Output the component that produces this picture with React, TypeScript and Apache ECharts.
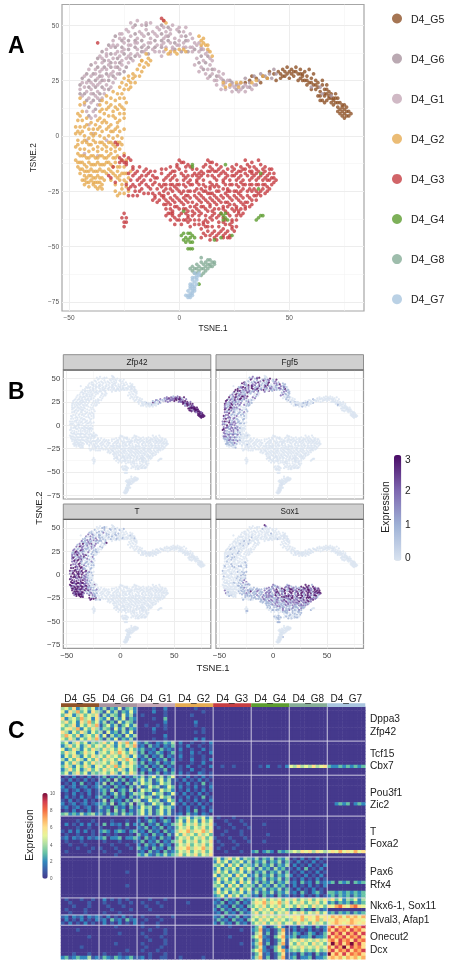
import React, { useEffect, useRef } from "react";
import * as echarts from "echarts";

const clusterNames = ["D4_G5", "D4_G6", "D4_G1", "D4_G2", "D4_G3", "D4_G4", "D4_G8", "D4_G7"];
const clusterColors = ["#8f5328", "#a9949f", "#c4a7b6", "#e6ab52", "#c63d42", "#5c9c30", "#86ad97", "#a9c5df"];

const g5 = [
  43,28, 45,29, 47,30, 47,27, 49,31, 49,28, 50,26, 51,30, 52,27, 53,31,
  54,28, 55,30, 55,26, 56,28, 57,25, 57,29, 58,27, 59,24, 59,30, 60,26,
  61,23, 61,28, 62,25, 62,21, 63,24, 64,20, 64,18, 65,25, 66,21, 66,18,
  66,15, 67,23, 67,19, 67,16, 68,20, 68,17, 69,15, 69,19, 70,17, 70,14,
  71,19, 71,15, 72,17, 72,13, 73,15, 73,12, 74,14, 74,11, 75,12, 75,10,
  76,13, 76,11, 77,11, 77,9, 78,10, 63,18, 65,16, 64,16, 72,11, 74,9,
  32,25, 35,26, 38,27, 40,26, 41,29, 37,24, 33,27, 30,24, 44,25, 46,26,
  48,29, 52,29, 54,25, 56,25, 58,23, 60,21, 50,29, 46,28, 75,8, 73,10,
  48,27, 51,28, 53,29, 55,28, 56,27, 58,25, 60,24, 62,23, 63,22, 65,23,
  66,19, 67,21, 68,18, 69,17, 70,16, 71,17, 72,15, 74,13, 75,14, 76,9,
];
const g6 = [
  30,26, 32,24, 34,27, 36,25, 37,28, 39,27, 41,28, 42,26, 43,30, 44,28,
  26,23, 28,24, 24,24, 35,23, 32,22, 29,22, 60,22, 64,22, 65,19, 69,18,
  -20,50, -15,50, -8,50, -5,49, -20,46, -14,46, -8,46, -5,45, 0,47, 3,45,
  -29,45, -26,43, -23,43, -20,43, -17,43, -11,43, -8,43, -5,43, -2,42, 3,43,
  -32,41, -29,40, -26,40, -23,39, -20,40, -17,40, -14,40, -11,40, -8,40, -2,39,
  1,38, 4,38, 7,39, 10,39, 13,36, -35,38, -31,37, -28,35, -25,37, -22,35,
  -20,36, -17,38, -14,37, -37,35, -34,34, -31,33, -27,33, -24,31, -40,32, -37,31,
  -34,31, -31,31, -28,31, -25,29, -42,28, -39,28, -36,27, -33,28, -30,27, -27,28,
  -44,26, -41,25, -38,25, -35,25, -32,25, -45,23, -41,22, -38,22, -35,22, -32,21,
  -45,19, -43,19, -39,19, -36,19, -42,16, -39,16, -36,16, -41,13, -38,12, -41,9,
  10,36, 12,33, 15,30, 9,33, 11,30, 14,27, 17,27, 20,25, 23,25, 26,21,
];
const g1 = [
  -19,52, -17,50, -13,51, -10,49, -24,48, -21,49, -18,47, -15,48, -12,47, -9,48,
  -6,47, -3,50, -1,48, 2,47, 5,46, -27,46, -25,44, -22,45, -19,44, -16,45,
  -13,44, -10,45, -7,44, -4,46, -2,44, 1,45, 4,43, 6,44, 9,42, -30,43,
  -28,41, -25,42, -22,41, -19,42, -16,41, -13,42, -10,41, -7,42, -4,42, -1,41,
  2,42, 5,40, 8,41, 11,39, -33,39, -31,40, -28,38, -25,39, -22,37, -19,39,
  -16,38, -12,39, -9,38, -6,40, -3,39, 0,41, 3,40, 6,38, 9,38, 12,37,
  14,35, -36,36, -33,36, -30,35, -27,36, -24,35, -21,34, -18,36, -38,33, -35,33,
  -32,32, -29,33, -26,32, -23,33, 8,35, 11,34, 14,32, 7,32, 10,31, 13,30,
  -41,30, -38,30, -36,29, -33,30, -30,29, -27,30, 9,29, 12,28, 15,28, 18,29,
  -43,27, -40,27, -37,26, -35,27, -32,27, -29,26, 13,26, 16,25, 19,26, 22,25,
  -44,24, -42,24, -39,23, -36,24, -33,23, -30,24, 17,23, 20,23, 23,22, 25,22,
  28,21, 31,22, -45,21, -42,20, -40,21, -37,20, -34,21, 19,21, 21,21, 24,20,
  27,20, 30,20, 33,21, -44,18, -41,17, -38,18, -35,17, -43,14, -40,15, -37,14,
  -42,11, -39,11, -40,8, -38,9, -41,5, -39,1, -42,-2, -37,-9, -43,-8, -33,-2,
  -22,51, -15,51, -7,49, -4,48, 0,49, 3,49, -26,46, -17,46, -11,46, -6,45,
  0,43, 7,42, 10,40, -30,41, -27,44, -23,47, -20,42, -14,42, -8,41, -3,40,
  2,40, 6,40, 13,38, 15,34, -33,37, -29,37, -26,38, -23,41, -19,37, -15,39,
  -11,38, -7,38, -4,37, -35,35, -32,34, -29,31, -26,34, -23,36, -38,28, -35,30,
  -31,28, -28,28, -40,24, -37,23, -34,25, -31,22, -43,22, -40,19, -37,17, -34,19,
  16,30, 18,27, 20,28, 17,25, 21,24, 24,23, 27,23, 30,23, 34,23, -8,36,
];
const g2 = [
  9,45, 10,43, 11,42, 12,41, 13,39, 14,38, 15,36, 11,44, 13,41, 10,41,
  -6,39, -4,38, -2,38, 0,39, 2,39, 3,38, -5,37, -1,37, -7,52, -6,51,
  21,22, 23,23, 26,24, 27,22, 38,27, 35,25, 40,26, 20,24, 28,24, 33,24,
  -15,37, -14,35, -17,34, -15,33, -18,32, -16,31, -14,32, -19,30, -17,29, -21,28,
  -23,27, -21,26, -25,26, -23,25, -26,24, -24,23, -22,24, -20,24, -27,22, -25,21,
  -23,21, -30,20, -28,19, -26,19, -33,18, -31,17, -29,16, -27,17, -25,17, -35,16,
  -45,17, -43,15, -36,14, -33,15, -31,14, -29,13, -27,14, -25,12, -33,12, -30,11,
  -46,10, -44,11, -36,11, -34,10, -32,9, -29,8, -27,10, -25,10, -46,7, -44,7,
  -42,8, -40,6, -37,7, -35,6, -33,6, -31,5, -28,6, -47,4, -45,4, -43,4,
  -41,3, -39,3, -37,3, -35,2, -33,3, -31,2, -29,3, -27,2, -47,1, -45,1,
  -43,0, -41,-1, -39,0, -36,0, -34,-1, -32,0, -30,-1, -28,0, -26,-1, -46,-2,
  -44,-3, -42,-3, -40,-4, -38,-3, -36,-3, -34,-4, -32,-3, -30,-4, -28,-3, -26,-4,
  -47,-5, -45,-6, -43,-6, -41,-7, -39,-6, -37,-7, -35,-6, -33,-7, -31,-6, -29,-7,
  -27,-6, -25,-8, -46,-8, -44,-9, -42,-10, -40,-9, -38,-10, -36,-9, -34,-10, -32,-9,
  -30,-10, -28,-9, -26,-11, -24,-11, -47,-11, -45,-12, -43,-13, -41,-12, -39,-13, -37,-12,
  -35,-13, -33,-12, -31,-13, -29,-12, -27,-14, -25,-14, -46,-14, -44,-15, -42,-16, -40,-15,
  -38,-16, -36,-15, -34,-16, -32,-15, -30,-17, -28,-16, -26,-17, -24,-17, -22,-16, -45,-17,
  -43,-18, -41,-18, -39,-19, -37,-18, -35,-19, -31,-20, -28,-19, -25,-20, -23,-19, -44,-20,
  -42,-21, -40,-20, -38,-21, -36,-21, -34,-20, -29,-22, -26,-22, -41,-23, -39,-22, -37,-24,
  -36,-23, -35,-24, -43,-22, -29,-25, -27,-26, -25,-26, -23,-25, -26,-24, -24,-23, -28,-27,
  -45,14, -35,12, -32,13, -28,12, -26,13, -24,15, -45,9, -42,5, -38,5, -36,8,
  -34,7, -30,9, -27,7, -25,8, -46,2, -44,2, -40,1, -38,1, -36,4, -32,4,
  -30,2, -28,4, -25,3, -46,-4, -43,-2, -41,-4, -39,-2, -37,-5, -35,-3, -33,-5,
  -31,-3, -29,-5, -27,-3, -45,-9, -43,-9, -41,-10, -39,-9, -37,-10, -35,-9, -33,-10,
  -31,-8, -29,-10, -46,-12, -44,-12, -42,-14, -40,-13, -38,-13, -36,-13, -34,-13, -32,-12,
  -30,-14, -28,-14, -45,-15, -43,-16, -41,-16, -39,-16, -37,-16, -35,-16, -33,-17, -31,-16,
  -29,-18, -27,-18, -25,-17, -42,-19, -40,-18, -38,-19, -36,-19, -43,-20, -41,-21, -39,-21,
  -37,-21, -35,-22, -27,-20, -24,-21, -38,-23, -17,34, -13,34, -20,27, -18,27, -22,22,
];
const g3 = [
  0,-11, 2,-12, 13,-11, 15,-12, 30,-11, 33,-12, 36,-11, -1,-13, 3,-14, 12,-13,
  14,-14, 17,-13, 26,-13, 28,-14, 31,-13, 34,-14, 37,-13, 39,-14, -21,-15, -18,-14,
  -15,-15, -6,-15, -3,-16, 0,-15, 3,-16, 6,-15, 10,-16, 13,-16, 16,-16, 18,-15,
  22,-15, 24,-16, 27,-16, 30,-15, 33,-16, 36,-16, 39,-16, 42,-15, -23,-17, -20,-17,
  -17,-18, -14,-17, -12,-18, -8,-17, -5,-18, -2,-18, 1,-17, 4,-18, 7,-17, 10,-18,
  13,-18, 16,-19, 19,-17, 22,-18, 25,-18, 28,-18, 31,-18, 34,-18, 37,-18, 40,-18,
  43,-17, -22,-20, -19,-20, -16,-20, -13,-20, -10,-19, -7,-20, -4,-20, -1,-20, 2,-20,
  5,-20, 8,-20, 11,-20, 14,-21, 17,-20, 20,-20, 23,-20, 26,-20, 29,-20, 32,-20,
  35,-20, 38,-20, 41,-20, 44,-20, -24,-22, -21,-22, -18,-22, -15,-22, -12,-22, -9,-22,
  -6,-22, -3,-22, 0,-22, 3,-23, 6,-22, 9,-22, 12,-23, 15,-22, 18,-23, 21,-22,
  24,-22, 27,-23, 30,-22, 33,-22, 36,-22, 39,-22, 42,-22, -23,-24, -20,-25, -17,-24,
  -13,-24, -10,-24, -7,-25, -4,-24, -1,-24, 2,-25, 5,-25, 8,-24, 11,-25, 14,-24,
  17,-25, 20,-24, 23,-25, 26,-25, 29,-24, 32,-24, 35,-25, 38,-24, 40,-25, -23,-27,
  -19,-27, -14,-26, -11,-27, -8,-27, -5,-26, -2,-27, 1,-26, 4,-27, 7,-27, 10,-27,
  13,-26, 16,-27, 19,-27, 22,-27, 25,-27, 28,-27, 31,-27, 34,-27, 37,-27, -12,-29,
  -9,-29, -6,-29, -3,-29, 0,-29, 3,-29, 6,-30, 9,-29, 12,-29, 15,-29, 18,-29,
  21,-30, 24,-29, 27,-29, 30,-30, 33,-29, 35,-29, -7,-31, -4,-31, -1,-32, 2,-31,
  5,-32, 8,-31, 11,-32, 14,-31, 17,-31, 20,-32, 23,-31, 26,-32, 29,-31, 32,-32,
  -6,-33, -3,-34, 0,-33, 3,-33, 6,-34, 9,-34, 12,-33, 15,-34, 18,-33, 21,-34,
  24,-33, 27,-34, 30,-33, -6,-36, -3,-36, 0,-36, 3,-35, 6,-36, 9,-36, 12,-36,
  15,-36, 18,-36, 23,-36, 26,-36, 29,-35, -4,-38, -1,-38, 2,-38, 5,-38, 9,-38,
  12,-38, 15,-38, 18,-39, 21,-38, 24,-38, 26,-38, -2,-40, 1,-40, 4,-39, 9,-40,
  12,-41, 15,-41, 18,-41, 21,-40, 24,-41, 10,-42, 13,-43, 16,-43, 19,-43, 22,-43,
  25,-43, 14,-45, 17,-45, 20,-45, 23,-45, 14,-47, 17,-47, 20,-46, 23,-46, 10,-46,
  -25,-9, -23,-10, -26,-11, -24,-12, -22,-11, -25,-35, -24,-37, -25,-39, -26,-37, -24,-39,
  -25,-41, -30,-14, -29,-21, -32,-18, -31,-19, -16,-16, -11,-19, -4,-17, -1,-14, 4,-13,
  8,-15, 11,-14, 15,-15, 19,-14, 24,-14, 29,-15, 32,-14, 35,-15, 38,-15, 41,-17,
  -3,-19, 3,-19, 9,-19, 15,-18, 21,-19, 27,-19, 33,-19, 39,-19, -20,-23, -14,-23,
  -8,-23, -2,-23, 4,-21, 10,-24, 16,-23, 22,-24, 28,-21, 34,-24, 40,-23, 43,-21,
  -16,-26, -9,-26, -3,-25, 3,-27, 9,-26, 15,-26, 21,-26, 27,-26, 33,-25, 37,-25,
  -11,-28, -7,-28, -1,-28, 5,-28, 11,-28, 17,-28, 23,-28, 29,-28, 32,-28, -5,-30,
  1,-30, 7,-32, 13,-30, 19,-30, 25,-31, 31,-30, -2,-32, 4,-34, 10,-32, 16,-33,
  22,-32, 28,-33, -5,-35, 1,-35, 7,-35, 13,-34, 19,-35, 25,-34, 28,-36, -2,-37,
  4,-37, 7,-38, 11,-39, 14,-37, 17,-37, 20,-37, 23,-40, 11,-44, 15,-44, 21,-44,
  -8,53, -7,52, -37,42, -29,-3, -28,-4, -27,-10, -25,-12, -21,-14, -24,-13, -27,-12,
  -19,-16, -13,-16, -8,-15, -4,-14, 1,-12, 5,-14, 9,-17, 14,-12, 17,-16, 20,-16,
  25,-15, 28,-16, 32,-16, 35,-17, 38,-17, 41,-15, 43,-19, -21,-18, -18,-19, -15,-18,
  -11,-16, -6,-19, -2,-16, 2,-18, 6,-18, 8,-18, 11,-17, 14,-16, 18,-18, 21,-17,
  24,-18, 26,-17, 30,-17, 33,-17, 36,-19, 40,-20, 42,-19, -17,-21, -11,-21, -7,-22,
  -4,-22, -1,-22, 2,-22, 5,-22, 8,-21, 11,-22, 14,-23, 17,-22, 20,-21, 23,-22,
  26,-22, 29,-22, 32,-22, 35,-22, 38,-22, 41,-24, -22,-23, -18,-25, -12,-26, -6,-24,
  0,-25, 4,-25, 7,-25, 12,-25, 14,-26, 18,-25, 22,-25, 25,-25, 28,-25, 31,-25,
  36,-26, 39,-26, -21,-27, -7,-27, -4,-28, 2,-28, 8,-28, 14,-28, 20,-28, 26,-28,
  35,-27, -10,-30, -6,-31, -2,-30, 4,-30, 10,-30, 16,-30, 22,-30, 28,-30, 33,-31,
  -4,-33, 2,-33, 8,-33, 14,-32, 20,-33, 26,-33, 30,-32, -3,-35, -4,-35, 4,-36,
  10,-35, 16,-35, 22,-35, 27,-35, 0,-38, 7,-40, 13,-39, 20,-39, 24,-39, 13,-41,
  20,-42, 24,-42, 12,-45, 18,-44, 22,-46, 16,-46, 11,-40, 3,-38, 5,-41, 26,-41,
];
const g4 = [
  1,-45, 2,-44, 3,-46, 4,-44, 5,-46, 6,-45, 7,-46, 2,-47, 4,-47, 6,-48,
  5,-44, 4,-51, 5,-51, 6,-51, 3,-48, 5,-48, 19,-35, 20,-36, 21,-35, 21,-37,
  20,-38, 22,-38, 35,-38, 36,-37, 37,-36, 38,-36, 6,-13, 21,-13, 2,-34, 9,-67,
  37,-17, 36,-24, 16,-47, 19,-46, 24,-45, 6,-14,
];
const g8 = [
  10,-55, 6,-59, 6,-61, 7,-60, 8,-58, 8,-60, 8,-62, 9,-59, 9,-61, 10,-57,
  10,-60, 10,-63, 11,-58, 11,-60, 11,-62, 12,-57, 12,-59, 12,-61, 13,-58, 13,-60,
  14,-56, 14,-58, 14,-59, 15,-57, 15,-59, 16,-57, 16,-58, 13,-56, 7,-62, 5,-60,
];
const g7 = [
  7,-62, 8,-63, 6,-64, 7,-64, 8,-65, 6,-65, 7,-66, 5,-67, 6,-67, 8,-67,
  5,-68, 6,-68, 7,-68, 5,-69, 6,-70, 7,-69, 4,-70, 5,-71, 6,-71, 4,-72,
  5,-72, 5,-73, 8,-64, 9,-62, 4,-73, 3,-72, 6,-69, 7,-70, 9,-63, 6,-72,
];
const clusterPoints = [g5, g6, g1, g2, g3, g4, g8, g7];

// Expression level (0-3) of each point, ten digits per line of the point lists above.
const zfp42 = {
  D4_G5: "2322123232 3323212333 3233213233 3332323332 3233333323 3333333333 1112212322 2322322233 2323232333 3233333323",
  D4_G6: "1112211222 1011011233",
};
const fgf5 = {
  D4_G5: "0000000000 0000000000 0000000000 0000000000 0000000000 0000000000 1010010100",
  D4_G6: "0100100000 0000001000 2312131312 3132212312 1232312112 2021033121 1231321312 2132123212 3122131321 2132121312 2112010100",
  D4_G1: "2131031123 1302131022 2113021310 3102130312 1203312123 2132201112 1312131223 2120111201 3121320100 3212110100 2131220010 0121210000 1002321212 2120312102 1212131201 0212213122 1211312213 2130131213 3121121312 0000000002",
  D4_G2: "1101011102 1011010100 1000000010 1102010220 1012011121 1000121010 3110102011 3212001023 2120101232 3122110122 3112100002 2122110000 3211220100 0021212110 1001021110 1010001112 1010000000 1010000001 0010100010 0100000000 2011011012 1010102221 1003212222 1002121212 1022121210 0011212121 0001112110 1001000101",
};
const tGene = {
  D4_G6: "0000000000 0000000000 0101100100 1201010100 2012110100 0000012120 1010113212 1201012102 2312012123 2221233232",
  D4_G1: "0101100101 0010010102 1000100012 2101010010 0000102121 1010100000 0212101123 1212000000 2320120000 2132110000 1321020000 0021322000 0003121232 2323131232 0100010100 0000101010 0000110010 0001100102 1020102123 0000000000",
  D4_G2: "0000100000 0100100000 0000000000 0101000110 1011101011 0102121010 2310102011 3212101133 3232101323 3323212123 3233221013 3323322100 3323233221 1033232322 2113323233 3222111333 3323321023 3332322103 3233232333 3323333123 2010100323 1010033233 1002323212 1003233232 1032332323 1132323232 1013323233 3221303000",
  D4_G3: "0000000000 0000000000 0000000000 0000000010 0000000000 0000000000 0100000000 0000000000 0000100000 0000000000 0000000100 0000000000 0000000001 1000000000 0000000000 0000000000 0000000000 0000000000 0000000000 0000000000 0000000000 0000000000 0000000000 0000000000 0000000000 0111000000",
};
const sox1 = {
  D4_G6: "0000000000 0000000000 0000000000 0000000000 0000100000 0100000000 0000010000 0010010000 0000100100 0101010000",
  D4_G1: "0001000000 0000000000 0000100000 0000000000 0000000010 0000000000 0000100000 0001000000 0010000000 0100000000 0000100000 0001000000 0000010100 0101010101",
  D4_G2: "0000000000 0000000000 0000000000 0000000000 0000000000 0000000000 0000000000 0000100100 0000000100 0000101100 0000001111 0000010101 0000000011 2200000101 1212000000 0101210000 0000111212 0000010212 0000001110 0000000111 0000101001 0101000000 0010000000 0000000000 0000000001 1100000000 1101000000 0011000000",
  D4_G3: "2112331212 2133313211 1212313132 2312313311 1212112313 1323123233 3111112212 3132313323 3233111212 2112313232 2332131011 1212212312 3123133120 0112121213 1322132131 1111212312 2313321122 1122122212 1011212121 2120101121 1212101012 1211210001 1010100101 1001011100 0110100101 0111011212 3232133233 2313233311 1213231332 1212122132 1121212231 1122121211 1211112110 1011101010 3200000000 1112121231 1232323312 1212123132 1323123111 2131223213 3132311112 1212231323 2211212122 2111212221 1212121100 1011101011 1010101101",
  D4_G4: "1010101010 1111011010 1010000101 000000",
};
const facetGenes = ["Zfp42", "Fgf5", "T", "Sox1"];
const facetValues = [zfp42, fgf5, tGene, sox1];

const xTicks = [-50, 0, 50];
const xMinorLines = [-25, 25, 75];
const yTicks = [-75, -50, -25, 0, 25, 50];
const yMinorLines = [-62.5, -37.5, -12.5, 12.5, 37.5];
const expressionTicks = ["3", "2", "1", "0"];
const heatTicks = ["10", "8", "6", "4", "2", "0"];
const geneLabels = [
  ["Dppa3", 718.7], ["Zfp42", 731.7], ["Tcf15", 753], ["Cbx7", 765.7], ["Pou3f1", 792], ["Zic2", 804.7],
  ["T", 831], ["Foxa2", 843.7], ["Pax6", 871], ["Rfx4", 884], ["Nkx6-1, Sox11", 905], ["Elval3, Afap1", 919.7],
  ["Onecut2", 936.7], ["Dcx", 949.7],
];

// Heatmap rows: one token per cluster, ten cells per token, "." = all cells 0, a = 10.
const heatBlockRows = [10, 10, 12, 12, 12, 5, 3, 10];
const heatRows = [
  "4536245352 2413251342 0000100200 0000010000 . . . .",
  "5264735264 3152413252 0000200100 0000000100 . . . .",
  "3652463546 1424315241 0100000100 0000100000 . . . .",
  "6245374526 3251425132 0000100300 0000000000 . . . .",
  "4635264735 2413152431 0000000200 0000020000 . . . .",
  "5346253647 1352413524 0010010100 0000010000 . . . .",
  "3564725364 2431524132 0000200100 0000000100 . . . .",
  "6425364253 4152314251 0000100000 0000010100 . . . .",
  "4753624536 2514231524 0000000200 0000000000 . . . .",
  "5364253647 3142513241 0000100100 0000020200 . . . .",

  "3524635243 4635264736 2131021324 0200100102 . . . .",
  "2463524635 5364253647 1203120213 0102001001 . . . .",
  "5236425364 3645364253 2311203121 0200100201 . . . .",
  "3645236452 4536475364 1302132013 0100201002 . . . .",
  "2536425364 5364536425 2130213021 0200100100 . . . .",
  "4253642536 3645364753 0213021302 0100200102 . . . .",
  "2536425364 4536425364 1302130213 0000100200 . . . .",
  "3642536425 5364736453 2130213021 0102001002 0010010000 0010200102 5464546456 3223232323",
  "2463524635 3645364253 0213021302 0100200100 . . . .",
  "3524635243 4536425364 1302130213 0201002101 . . . .",

  "0102010201 1302130213 2413524135 0102010201 . . . .",
  "1020102010 2130413021 3524135241 1020102010 . . . .",
  "0102030102 1403120314 2534125341 0102010301 . . . .",
  "2012012012 3120312031 4125341253 0201020102 . . . .",
  "1201201201 2314023140 2534125342 0102010201 . . . .",
  "0102010201 1302413024 3412534125 1020102010 . . . .",
  "0201020102 3120312031 2534125341 0102010301 . . . .",
  "1020102010 1403120314 4125341253 0201020102 . . . .",
  "2012012012 2314023140 3412534125 1020102010 . . . 0023230232",
  "1201201201 3120312031 2534125342 0102010201 . . . .",
  "0102010201 2130413021 3524135241 0102030102 . . . .",
  "3423242342 3142314231 3524135241 1203120210 . . . .",

  ". . 1020102010 2435243524 0100010000 . . .",
  "0000100010 0001000100 2013201320 3526352635 0001000100 . . .",
  "0201020201 0302120302 1302130213 4635463546 1000100010 0001000000 . .",
  "0000100100 1000010100 2130213021 3546354635 0100010001 . . .",
  "1020202010 2320232023 1203120312 4657465746 0001000100 . . .",
  "0100100010 1010100010 3120312031 5364536453 0010000100 0000100000 . .",
  "1202120212 2302230223 2031203120 3546354635 1000100010 . . .",
  "0100010000 0100010001 1302130213 4635463546 0100010001 0001000000 . .",
  "0010001000 0001000100 2031203120 3546354635 0010001000 . . .",
  "0000100010 1000100010 3120312031 4657465746 0100010000 . . .",
  "0100000100 0100010000 1203120312 3546354635 0001000100 2302320323 4546564654 5657565756",
  ". 0000100000 3242132423 4635463546 . . . .",

  ". . . . 3524635243 2413241324 0102010201 .",
  ". . . . 2635243524 1324132413 1020102010 .",
  ". . . . 4352635243 2413241324 0201020102 .",
  ". . . . 2524352635 3142314231 1020301020 .",
  ". 0000000100 . . 3635243524 1324132413 0102010201 .",
  ". . . . 5243526352 2413241324 2010201020 .",
  ". . . . 2635243524 1324132413 0102010201 .",
  ". . . . 3524352635 2413241324 1203120312 2303230323",
  ". 0000000100 . . 4352635243 3142314231 0201020102 .",
  ". . . . 2524352635 1324132413 1020102010 .",
  ". . . . 3635243524 2413241324 1203102310 3323232323",
  ". . . . 2352635243 1203120312 0102010201 2313231323",

  "0100010010 0201010100 0001000100 . 1203120312 3546354635 4635463546 4635243524",
  "0010000100 0100010010 0100010000 0001000000 2130213021 4657465746 3546354635 2313231323",
  "0001000100 0010001000 0010001000 . 1312031203 3546354635 5364536453 6578657865",
  "0100001000 0001000010 0001000000 . 2031203120 5364536453 1203120312 0000000000",
  "0010001000 0100010000 . . 1203120312 4635463546 3546354635 2313231323",

  "1202120212 1020102010 0100010001 . 2130213021 4546454645 5657565756 5767576757",
  "0201020102 1203120312 0010001000 . 1312031203 5364536453 4657465746 6576657665",
  "1020102010 0201020102 0100010000 . 2031203120 3546354635 5364536453 5676567656",

  ". 0000100000 0100010000 . 0000100000 1362013620 1203120312 7968796879",
  "0000100000 . 0001000100 . 0000000100 2371201371 0201020102 8697869786",
  ". 0000010000 0100000100 . . 1461301461 1320132013 6979697969",
  "0000000100 . 0010001000 . 0000100000 3572103572 2302230223 9687968796",
  ". . 0001000100 . . 1361201361 4546454645 7869786978",
  ". 0000100000 0100000100 . 0000000100 2471301471 5364536453 6a7968a796",
  "0000010000 . 0010001000 . . 1362013620 4546454645 8697a69786",
  ". 0000000100 0100010000 . . 3572103572 3435343534 7968796879",
  "0001000100 0100010000 0001000100 . . 1361201361 1203120312 a686968786",
  "2312322412 1321321231 1201001100 0100000100 . 2471301471 2302230223 6767576757",
];

const FONT = "Liberation Sans";
const A_RANGE = { xMin: -53.2, xMax: 83.9, yMin: -79.1, yMax: 59.3 };
const heatColors = ["#45398c", "#3d5fa8", "#3288bd", "#66c2a5", "#abdda4", "#e6f598", "#fee08b", "#fdae61", "#f46d43", "#d53e4f", "#7a0c3c"];
const exprColors = ["#d9e3f0", "#9fb2d6", "#7d66b0", "#4a0b66"];

const minusLabel = (v: number | string) => String(v).replace("-", "\u2212");

function toPairs(flat: number[]) {
  const out: number[][] = [];
  for (let i = 0; i < flat.length; i += 2) out.push([flat[i], flat[i + 1]]);
  return out;
}

function gridLines() {
  const major = { width: 1, color: "#ededed", type: "solid" };
  const minor = { width: 0.6, color: "#f3f3f3", type: "solid" };
  return {
    silent: true,
    symbol: ["none", "none"],
    label: { show: false },
    z: 1,
    animation: false,
    data: [
      ...xMinorLines.map((v) => ({ xAxis: v, lineStyle: minor })),
      ...yMinorLines.map((v) => ({ yAxis: v, lineStyle: minor })),
      ...xTicks.map((v) => ({ xAxis: v, lineStyle: major })),
      ...yTicks.map((v) => ({ yAxis: v, lineStyle: major })),
    ],
  };
}

function valueAxis(gridIndex: number, dim: "x" | "y", show: boolean, size: number, color: string, extra: any = {}) {
  const ticks = dim === "x" ? xTicks : yTicks;
  return {
    type: "value",
    gridIndex,
    min: dim === "x" ? A_RANGE.xMin : A_RANGE.yMin,
    max: dim === "x" ? A_RANGE.xMax : A_RANGE.yMax,
    axisLine: { show: false },
    splitLine: { show: false },
    axisTick: { show, length: 2, customValues: ticks, lineStyle: { color: "#666", width: 0.7 } },
    axisLabel: { show, customValues: ticks, formatter: minusLabel, fontSize: size, color, margin: 3, fontFamily: FONT },
    ...extra,
  };
}

function text(x: number, y: number, t: string, size: number, opts: any = {}) {
  const { rotation, ...style } = opts;
  return {
    type: "text",
    x,
    y,
    rotation: rotation || 0,
    z: 20,
    style: {
      text: t,
      fontSize: size,
      fontFamily: FONT,
      fill: "#222",
      align: "left",
      verticalAlign: "middle",
      ...style,
    },
  };
}

function buildOption() {
  const grids: any[] = [];
  const xAxes: any[] = [];
  const yAxes: any[] = [];
  const series: any[] = [];
  const graphics: any[] = [];

  // Panel A
  grids.push({ left: 62, top: 4.5, width: 302, height: 306.5, show: true, borderColor: "#a6a6a6", borderWidth: 1.2, backgroundColor: "#fff" });
  xAxes.push(valueAxis(0, "x", true, 6.5, "#555", { name: "TSNE.1", nameLocation: "middle", nameGap: 12.5, nameTextStyle: { fontSize: 8.3, color: "#222", fontFamily: FONT } }));
  yAxes.push(valueAxis(0, "y", true, 6.5, "#555", { name: "TSNE.2", nameLocation: "middle", nameGap: 19, nameTextStyle: { fontSize: 8.3, color: "#222", fontFamily: FONT } }));
  series.push({ type: "scatter", name: "grid", xAxisIndex: 0, yAxisIndex: 0, data: [], z: 1, markLine: gridLines() });
  clusterNames.forEach((name, i) => {
    series.push({
      type: "scatter",
      name,
      xAxisIndex: 0,
      yAxisIndex: 0,
      data: toPairs(clusterPoints[i]),
      symbolSize: 3.7,
      itemStyle: { color: clusterColors[i] },
      progressive: 0,
      z: 3,
      silent: true,
    });
  });

  // Panel B
  const panelX = [63.3, 216];
  const panelY = [370, 519.3];
  const stripTop = [354.7, 504];
  const facetIndex: number[] = [];
  facetGenes.forEach((gene, f) => {
    const col = f % 2;
    const row = f < 2 ? 0 : 1;
    const gi = grids.length;
    grids.push({ left: panelX[col], top: panelY[row], width: 147.5, height: 129, show: true, borderColor: "#9a9a9a", borderWidth: 1.2, backgroundColor: "#fff" });
    xAxes.push(valueAxis(gi, "x", row === 1, 7.8, "#444"));
    yAxes.push(valueAxis(gi, "y", col === 0, 7.8, "#444"));
    const lookup = facetValues[f] as Record<string, string>;
    const rows: number[][] = [];
    clusterNames.forEach((name, c) => {
      const digits = (lookup[name] || "").replace(/\s/g, "");
      toPairs(clusterPoints[c]).forEach((p, k) => {
        rows.push([p[0], p[1], Number(digits[k] || 0)]);
      });
    });
    facetIndex.push(series.length);
    series.push({
      type: "scatter",
      name: gene,
      xAxisIndex: gi,
      yAxisIndex: gi,
      data: rows,
      symbolSize: 2.2,
      progressive: 0,
      z: 3,
      silent: true,
      markLine: gridLines(),
    });
    graphics.push({
      type: "rect",
      z: 15,
      shape: { x: panelX[col], y: stripTop[row], width: 147.5, height: panelY[row] - stripTop[row] },
      style: { fill: "#d0d0d0", stroke: "#8e8e8e", lineWidth: 1 },
    });
    graphics.push({
      type: "line",
      z: 16,
      shape: { x1: panelX[col], y1: panelY[row], x2: panelX[col] + 147.5, y2: panelY[row] },
      style: { stroke: "#555", lineWidth: 1 },
    });
    graphics.push(text(panelX[col] + 73.75, (stripTop[row] + panelY[row]) / 2, gene, 8.2, { align: "center" }));
  });

  // Panel C
  const heatLeft = 61;
  const heatTop = 707;
  const heatW = 304.3;
  const heatH = 252.3;
  const cellsPerGroup = 10;
  const heatData: number[][] = [];
  heatRows.forEach((row, r) => {
    row.split(" ").forEach((token, g) => {
      for (let c = 0; c < cellsPerGroup; c++) {
        const v = token === "." ? 0 : parseInt(token[c] || "0", 16);
        heatData.push([g * cellsPerGroup + c, r, v]);
      }
    });
  });
  const heatGi = grids.length;
  grids.push({ left: heatLeft, top: heatTop, width: heatW, height: heatH });
  const nCols = clusterNames.length * cellsPerGroup;
  xAxes.push({ type: "category", gridIndex: heatGi, data: Array.from({ length: nCols }, (_, i) => String(i)), show: false });
  yAxes.push({ type: "category", gridIndex: heatGi, data: heatRows.map((_, i) => String(i)), inverse: true, show: false });
  const heatIndex = series.length;
  series.push({
    type: "heatmap",
    name: "Expression",
    xAxisIndex: heatGi,
    yAxisIndex: heatGi,
    data: heatData,
    progressive: 0,
    silent: true,
    itemStyle: { borderWidth: 0 },
  });

  const groupW = heatW / clusterNames.length;
  clusterNames.forEach((name, i) => {
    const gx = heatLeft + i * groupW;
    graphics.push({ type: "rect", z: 15, shape: { x: gx, y: 703.3, width: groupW, height: 3.7 }, style: { fill: clusterColors[i] } });
    graphics.push(text(gx + groupW / 2, 698, name, 10, { align: "center" }));
    if (i > 0) {
      graphics.push({ type: "line", z: 15, shape: { x1: gx, y1: heatTop, x2: gx, y2: heatTop + heatH }, style: { stroke: "#dcd9ea", lineWidth: 0.9 } });
    }
  });
  let acc = 0;
  heatBlockRows.slice(0, -1).forEach((n) => {
    acc += n;
    const y = heatTop + (acc / heatRows.length) * heatH;
    graphics.push({ type: "line", z: 15, shape: { x1: heatLeft, y1: y, x2: heatLeft + heatW, y2: y }, style: { stroke: "#dcd9ea", lineWidth: 0.9 } });
  });
  geneLabels.forEach(([label, y]) => {
    graphics.push(text(370, y as number, label as string, 10.2));
  });

  // Letters
  graphics.push(text(8, 45, "A", 23, { fontWeight: "bold", fill: "#000" }));
  graphics.push(text(8, 391, "B", 23, { fontWeight: "bold", fill: "#000" }));
  graphics.push(text(8, 730, "C", 23, { fontWeight: "bold", fill: "#000" }));

  // Shared facet labels
  graphics.push(text(38, 508, "TSNE.2", 9.5, { align: "center", rotation: Math.PI / 2 }));
  graphics.push(text(213, 667, "TSNE.1", 9.5, { align: "center" }));
  graphics.push(text(385, 507, "Expression", 10.4, { align: "center", rotation: Math.PI / 2 }));
  expressionTicks.forEach((t, i) => {
    graphics.push(text(405, [459, 490, 524, 557][i], t, 10.2));
  });
  graphics.push(text(29, 835, "Expression", 10.4, { align: "center", rotation: Math.PI / 2 }));
  heatTicks.forEach((t, i) => {
    graphics.push(text(50, [793.3, 810.7, 827.7, 845, 861.7, 878][i], t, 4.5, { fill: "#555" }));
  });

  return {
    animation: false,
    textStyle: { fontFamily: FONT },
    grid: grids,
    xAxis: xAxes,
    yAxis: yAxes,
    series,
    legend: {
      data: clusterNames,
      orient: "vertical",
      left: 392,
      top: 13,
      itemWidth: 10,
      itemHeight: 10,
      itemGap: 29.1,
      icon: "circle",
      padding: 0,
      selectedMode: false,
      textStyle: { fontSize: 10.5, color: "#222", fontFamily: FONT, padding: [-4, 0, 0, 4] },
    },
    visualMap: [
      {
        type: "continuous",
        seriesIndex: facetIndex,
        dimension: 2,
        min: 0,
        max: 3,
        left: 394,
        top: 455,
        itemWidth: 7.3,
        itemHeight: 105.7,
        padding: 0,
        calculable: false,
        realtime: false,
        inRange: { color: exprColors },
      },
      {
        type: "continuous",
        seriesIndex: heatIndex,
        dimension: 2,
        min: 0,
        max: 10,
        left: 42.3,
        top: 793,
        itemWidth: 5.4,
        itemHeight: 85.7,
        padding: 0,
        calculable: false,
        realtime: false,
        inRange: { color: heatColors },
      },
    ],
    graphic: { elements: graphics },
  };
}

export default function App() {
  const ref = useRef<HTMLDivElement>(null);
  useEffect(() => {
    if (!ref.current) return;
    const chart = echarts.init(ref.current, undefined, { renderer: "svg" });
    chart.setOption(buildOption() as any);
    return () => chart.dispose();
  }, []);
  return <div ref={ref} style={{ position: "absolute", left: 0, top: 0, width: 450, height: 965, background: "#fff", filter: "blur(0.4px)" }} />;
}
